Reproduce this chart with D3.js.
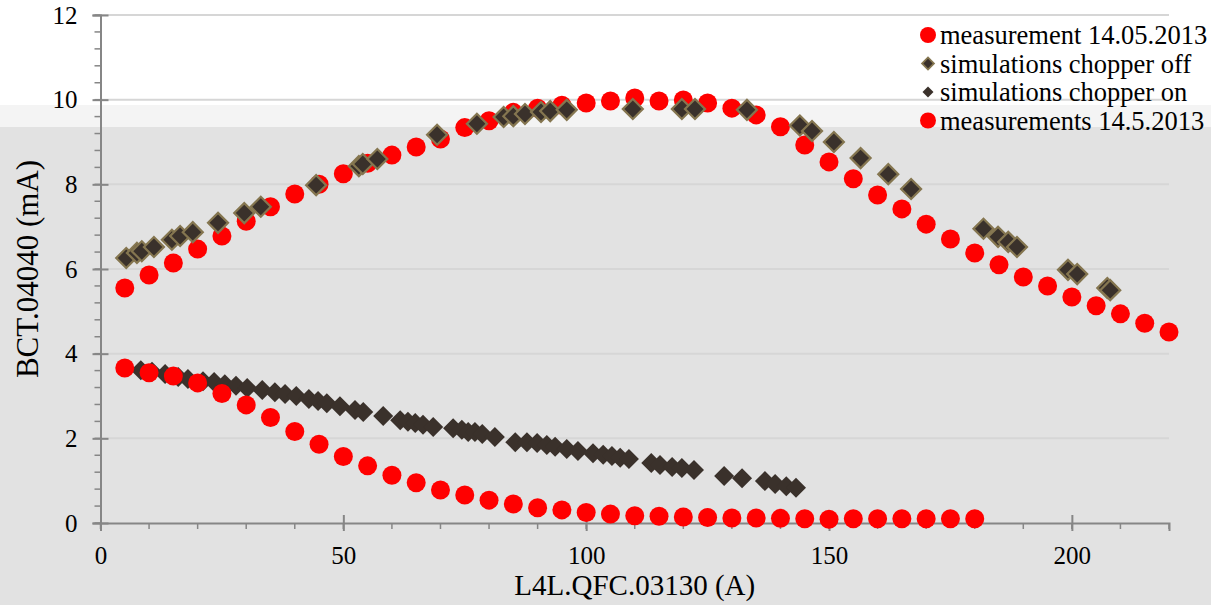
<!DOCTYPE html>
<html lang="en">
<head>
<meta charset="utf-8">
<title>BCT vs QFC</title>
<script src="https://d3js.org/d3.v7.min.js"></script>
<style>
  body { margin: 0; background: #fff; }
</style>
</head>
<body>
<script>
// --- data ---
var measUpperX = [5,10,15,20,25,30,35,40,45,50,55,60,65,70,75,80,85,90,95,100,105,110,
                  115,120,125,130,135,140,145,150,155,160,165,170,175,180,185,190,195,200,205,210,215,220];
var measUpperY = [5.55,5.86,6.14,6.47,6.78,7.13,7.47,7.77,8.0,8.25,8.5,8.69,8.88,9.07,9.34,9.5,9.7,9.8,9.87,9.92,9.97,10.04,
                  9.97,9.99,9.92,9.8,9.64,9.36,8.93,8.53,8.13,7.75,7.42,7.06,6.71,6.38,6.1,5.81,5.6,5.34,5.13,4.94,4.72,4.51];

var simOffX = [5.3,7.5,8.5,11.0,14.7,16.4,19.0,24.2,29.6,33.0,44.4,53.2,54.0,57.0,69.3,77.5,83.0,85.0,87.4,90.7,92.6,96.0,
               109.6,119.7,122.4,133.1,144.0,146.5,151.0,156.5,162.2,166.9,181.8,184.8,186.9,188.7,199.2,201.1,207.3,207.9];
var simOffY = [6.26,6.38,6.42,6.52,6.69,6.78,6.87,7.09,7.32,7.47,7.98,8.43,8.48,8.6,9.17,9.43,9.59,9.61,9.66,9.71,9.73,9.76,
               9.78,9.78,9.78,9.76,9.39,9.26,9.0,8.62,8.24,7.89,6.95,6.76,6.64,6.52,5.98,5.88,5.55,5.5];

var simOnX = [8.3,10.6,13.3,16.0,18.0,21.1,23.4,25.6,27.9,30.2,33.3,35.9,38.0,40.3,42.9,44.8,46.6,49.3,52.4,54.1,58.2,
              61.7,63.3,64.8,66.4,68.5,72.6,74.4,75.7,77.1,78.6,81.2,85.4,87.8,89.9,91.9,93.6,96.0,98.3,101.4,103.5,
              105.3,107.0,108.8,113.4,115.2,117.7,119.7,122.2,128.4,132.1,136.8,138.9,141.2,143.2];
var simOnY = [3.61,3.57,3.52,3.45,3.40,3.35,3.33,3.28,3.24,3.19,3.14,3.09,3.05,3.00,2.93,2.88,2.83,2.76,2.67,2.62,2.53,
              2.43,2.39,2.36,2.32,2.27,2.24,2.20,2.15,2.15,2.10,2.03,1.91,1.91,1.89,1.84,1.80,1.75,1.70,1.65,1.61,
              1.58,1.54,1.51,1.42,1.37,1.32,1.30,1.25,1.11,1.06,0.99,0.92,0.87,0.83];

var measLowerX = [5,10,15,20,25,30,35,40,45,50,55,60,65,70,75,80,85,90,95,100,105,110,
                  115,120,125,130,135,140,145,150,155,160,165,170,175,180];
var measLowerY = [3.66,3.55,3.47,3.31,3.06,2.79,2.49,2.16,1.86,1.57,1.35,1.13,0.95,0.78,0.66,0.54,0.45,0.36,0.31,0.25,0.21,0.17,
                  0.16,0.14,0.13,0.12,0.12,0.11,0.1,0.09,0.1,0.1,0.1,0.1,0.1,0.1];

var seriesNames = ["measurement 14.05.2013", "simulations chopper off",
                   "simulations chopper on", "measurements 14.5.2013"];
var xTicks = [0, 50, 100, 150, 200];
var yTicks = [0, 2, 4, 6, 8, 10, 12];

var FONT = "'Liberation Serif', 'DejaVu Serif', 'Times New Roman', Times, serif";

// --- layout ---
var W = 1211, H = 605;
var svg = d3.select("body").append("svg")
    .attr("width", W)
    .attr("height", H)
    .attr("font-family", FONT);

// slide background
svg.append("rect").attr("x", 0).attr("y", 0).attr("width", W).attr("height", H).attr("fill", "#ffffff");
svg.append("rect").attr("x", 0).attr("y", 105).attr("width", W).attr("height", 22).attr("fill", "#f4f4f4");
svg.append("rect").attr("x", 0).attr("y", 127).attr("width", W).attr("height", H - 127).attr("fill", "#e2e2e2");

var x = d3.scaleLinear().domain([0, 220]).range([100.5, 1169]);
var y = d3.scaleLinear().domain([0, 12]).range([523, 15]);

// gridlines
svg.append("g")
  .selectAll("line")
  .data(yTicks.filter(d => d > 0))
  .enter().append("line")
    .attr("x1", x(0)).attr("x2", x(220))
    .attr("y1", d => y(d)).attr("y2", d => y(d))
    .attr("stroke", "#d6d6d6")
    .attr("stroke-width", 2);

// minor ticks
var axisColor = "#868686";
svg.append("g")
  .selectAll("line")
  .data(d3.range(0, 12.01, 0.4))
  .enter().append("line")
    .attr("x1", x(0) - 6).attr("x2", x(0))
    .attr("y1", d => y(d)).attr("y2", d => y(d))
    .attr("stroke", axisColor).attr("stroke-width", 1.5);
svg.append("g")
  .selectAll("line")
  .data(d3.range(0, 220.1, 10))
  .enter().append("line")
    .attr("x1", d => x(d)).attr("x2", d => x(d))
    .attr("y1", y(0)).attr("y2", y(0) + 6)
    .attr("stroke", axisColor).attr("stroke-width", 1.5);

// axes
var yAxis = svg.append("g")
    .attr("transform", "translate(" + x(0) + ",0)")
    .call(d3.axisLeft(y).tickValues(yTicks).tickSize(8).tickPadding(15));
yAxis.selectAll(".tick line").attr("x2", 8).attr("x1", -8);
var xAxis = svg.append("g")
    .attr("transform", "translate(0," + y(0) + ")")
    .call(d3.axisBottom(x).tickValues(xTicks).tickSize(8).tickPadding(15));
xAxis.selectAll(".tick line").attr("y1", -8).attr("y2", 8);

[yAxis, xAxis].forEach(function (a) {
  a.attr("font-family", FONT).attr("font-size", 25);
  a.select(".domain").attr("stroke", axisColor).attr("stroke-width", 2);
  a.selectAll(".tick line").attr("stroke", axisColor).attr("stroke-width", 2);
  a.selectAll(".tick text").attr("fill", "#000");
});

// axis titles
svg.append("text")
    .attr("transform", "translate(38," + (y(6)) + ") rotate(-90)")
    .attr("text-anchor", "middle")
    .attr("font-size", 31)
    .text("BCT.04040 (mA)");
svg.append("text")
    .attr("x", (x(0) + x(220)) / 2)
    .attr("y", 595)
    .attr("text-anchor", "middle")
    .attr("font-size", 29)
    .text("L4L.QFC.03130 (A)");

// series
var red = "#ff0000", dark = "#3a312b", olive = "#857650";
var diamond = d3.symbol().type(d3.symbolSquare).size(200);

function circles(xs, ys) {
  svg.append("g").selectAll("circle")
    .data(xs.map((d, i) => [d, ys[i]]))
    .enter().append("circle")
      .attr("cx", d => x(d[0]))
      .attr("cy", d => y(d[1]))
      .attr("r", 9.5)
      .attr("fill", red);
}
function diamonds(xs, ys, stroke) {
  svg.append("g").selectAll("path")
    .data(xs.map((d, i) => [d, ys[i]]))
    .enter().append("path")
      .attr("d", diamond)
      .attr("transform", d => "translate(" + x(d[0]) + "," + y(d[1]) + ") rotate(45)")
      .attr("fill", dark)
      .attr("stroke", stroke)
      .attr("stroke-width", stroke === "none" ? 0 : 2.2);
}

circles(measUpperX, measUpperY);
diamonds(simOffX, simOffY, olive);
diamonds(simOnX, simOnY, "none");
circles(measLowerX, measLowerY);

// legend
var legend = svg.append("g").attr("transform", "translate(928,35)");
seriesNames.forEach(function (name, i) {
  var row = legend.append("g").attr("transform", "translate(0," + (i * 28.5) + ")");
  if (i === 0 || i === 3) {
    row.append("circle").attr("r", 8).attr("fill", red);
  } else {
    row.append("path")
      .attr("d", d3.symbol().type(d3.symbolSquare).size(i === 1 ? 70 : 60))
      .attr("transform", "rotate(45)")
      .attr("fill", dark)
      .attr("stroke", i === 1 ? olive : "none")
      .attr("stroke-width", 1.8);
  }
  row.append("text")
    .attr("x", 12)
    .attr("y", 9)
    .attr("font-size", 26.5)
    .text(name);
});
</script>
</body>
</html>
